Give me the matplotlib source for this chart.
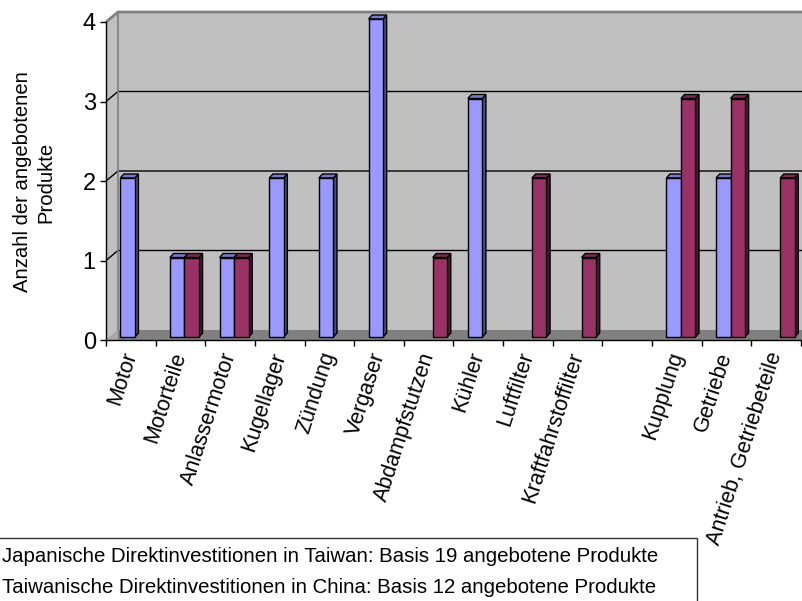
import matplotlib
matplotlib.use("Agg")
import matplotlib.pyplot as plt
from matplotlib.patches import Polygon, Rectangle

plt.rcParams['font.family'] = ['Liberation Sans', 'DejaVu Sans']

# ---- data ---------------------------------------------------------------
categories = ["Motor", "Motorteile", "Anlassermotor", "Kugellager", "Zündung",
              "Vergaser", "Abdampfstutzen", "Kühler", "Luftfilter",
              "Kraftfahrstoffilter", "", "Kupplung", "Getriebe",
              "Antrieb, Getriebeteile"]
japan_taiwan = [2, 1, 1, 2, 2, 4, 0, 3, 0, 0, 0, 2, 2, 0]
taiwan_china = [0, 1, 1, 0, 0, 0, 1, 0, 2, 1, 0, 3, 3, 2]
series_labels = ["Japanische Direktinvestitionen in Taiwan: Basis 19 angebotene Produkte",
                 "Taiwanische Direktinvestitionen in China: Basis 12 angebotene Produkte"]
y_ticks = [0, 1, 2, 3, 4]
y_label = "Anzahl der angebotenen\nProdukte"

# ---- figure / axes geometry (pixels) -----------------------------------
W, H = 803, 601
fig = plt.figure(figsize=(W / 100, H / 100), dpi=100)
ax_l, ax_r, ax_b, ax_t = 106, 801, 340, 22
ax = fig.add_axes([ax_l / W, 1 - ax_b / H, (ax_r - ax_l) / W, (ax_b - ax_t) / H])
n = len(categories)
ax.patch.set_visible(False)

px_x = n / (ax_r - ax_l)          # data units per pixel (x)
px_y = 4 / (ax_b - ax_t)          # data units per pixel (y)

# depth of the 3-D frame
ddx, ddy = 12 * px_x, 10 * px_y
x0, x1 = -0.5, n - 0.5 + 2 * ddx

wall_c = "#C0C0C0"
floor_c = "#808080"
edge_c = "#808080"

# back wall and side wall
ax.add_patch(Polygon([(x0 + ddx, ddy), (x1, ddy), (x1, 4 + ddy), (x0 + ddx, 4 + ddy)],
                     closed=True, fc=wall_c, ec="none", zorder=0, clip_on=False))
ax.add_patch(Polygon([(x0, 0), (x0 + ddx, ddy), (x0 + ddx, 4 + ddy), (x0, 4)],
                     closed=True, fc=wall_c, ec="none", zorder=0, clip_on=False))
# floor
ax.add_patch(Polygon([(x0, 0), (x0 + ddx, ddy), (x1, ddy), (x1, 0)],
                     closed=True, fc=floor_c, ec="none", zorder=0.5, clip_on=False))
ax.add_patch(Polygon([(x0, 0), (x0 + ddx, ddy), (x0 + ddx, 0)],
                     closed=True, fc="#A8A8A8", ec="none", zorder=0.6, clip_on=False))

# gridlines on back and side wall
for k in y_ticks[1:-1]:
    ax.plot([x0, x0 + ddx, x1], [k, k + ddy, k + ddy], color="black", lw=1,
            zorder=1, clip_on=False, solid_capstyle="butt")
ax.plot([x0, x0 + ddx, x1], [4, 4 + ddy, 4 + ddy], color=edge_c, lw=2,
        zorder=1, clip_on=False, solid_capstyle="butt")
ax.plot([x0 + ddx, x0 + ddx], [ddy, 4 + ddy], color=edge_c, lw=1.2, zorder=1, clip_on=False)

# ---- 3-D columns -------------------------------------------------------
bar_w = 14.5 * px_x
off_x, off_y = 4 * px_x, 3 * px_y          # front face offset from axis plane
dep_x, dep_y = 3.6 * px_x, 4 * px_y        # column depth
styles = [
    dict(front="#9999FF", side="#4D4D80", top="#7A7ACC"),
    dict(front="#993366", side="#4D1A33", top="#7A2952"),
]


def column(xl, v, st, z):
    xr = xl + bar_w
    b = off_y
    t = v + off_y
    kw = dict(closed=True, ec="black", lw=1, clip_on=False, zorder=z, joinstyle="miter")
    ax.add_patch(Polygon([(xr, b), (xr + dep_x, b + dep_y), (xr + dep_x, t + dep_y), (xr, t)],
                         fc=st["side"], **kw))
    ax.add_patch(Polygon([(xl, t), (xr, t), (xr + dep_x, t + dep_y), (xl + dep_x, t + dep_y)],
                         fc=st["top"], **kw))
    ax.bar(xl, v, width=bar_w, bottom=b, align="edge", color=st["front"],
           edgecolor="black", linewidth=1, zorder=z + 0.001, clip_on=False)


for i in range(n):
    c = i + off_x
    if japan_taiwan[i] > 0:
        column(c - bar_w, japan_taiwan[i], styles[0], 2 + i * 0.01)
    if taiwan_china[i] > 0:
        column(c, taiwan_china[i], styles[1], 2.005 + i * 0.01)

ax.set_xlim(-0.5, n - 0.5)
ax.set_ylim(0, 4)

# ---- axes, ticks, labels -----------------------------------------------
for s in ("top", "right"):
    ax.spines[s].set_visible(False)
for s in ("left", "bottom"):
    ax.spines[s].set_color("black")
    ax.spines[s].set_linewidth(1)
    ax.spines[s].set_zorder(3)
ax.spines["bottom"].set_bounds(-0.5, n - 0.5 + 2 * px_x)

ax.set_yticks(y_ticks)
ax.set_yticklabels([str(v) for v in y_ticks], fontsize=17)
ax.tick_params(axis="y", direction="out", length=6 * 0.72, width=1, pad=3, colors="black")

ax.set_xticks(range(n))
ax.set_xticks([i - 0.5 for i in range(n + 1)], minor=True)
ax.tick_params(axis="x", which="major", length=0, pad=9)
ax.tick_params(axis="x", which="minor", direction="out", length=6 * 0.72, width=1)
ax.set_xticklabels(categories, rotation=72, ha="right", va="center",
                   rotation_mode="anchor", fontsize=15.5)

fig.text(34 / W, 1 - 182 / H, y_label, rotation=90, ha="center", va="center",
         fontsize=14.6, linespacing=1.3, multialignment="center")

# ---- legend box (extends past the left and bottom edges) ---------------
fig.add_artist(Rectangle((-20 / W, 1 - 615 / H), 717 / W, 77 / H, transform=fig.transFigure,
                         fill=False, ec="#333333", lw=1))
fig.text(2 / W, 1 - 562 / H, series_labels[0], ha="left", va="baseline", fontsize=14.7)
fig.text(2 / W, 1 - 593 / H, series_labels[1], ha="left", va="baseline", fontsize=14.7)

fig.savefig("out.png", dpi=100)
